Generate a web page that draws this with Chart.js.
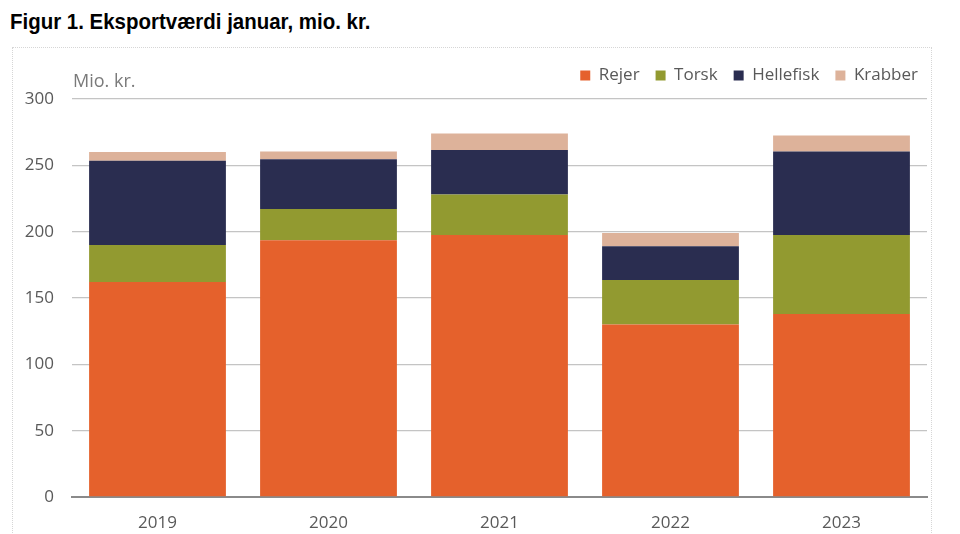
<!DOCTYPE html>
<html>
<head>
<meta charset="utf-8">
<script src="https://cdn.jsdelivr.net/npm/chart.js@4"></script>
<style>
    body { margin: 0; background: #fff; width: 960px; height: 534px; overflow: hidden; position: relative; }
    #title {
        position: absolute; left: 10px; top: 9px;
        font-family: "Liberation Sans", Arial, sans-serif;
        font-weight: bold; font-size: 22px; color: #000; white-space: nowrap;
        transform: scaleX(0.93); transform-origin: left top;
    }
    #box {
        position: absolute; left: 12px; top: 47px; width: 918px; height: 490px;
        border: 1px dotted #d6d6d6;
    }
    #wrap { position: absolute; left: 12px; top: 48px; width: 918px; height: 486px; }
</style>
</head>
<body>
<div id="title">Figur 1. Eksportværdi januar, mio. kr.</div>
<div id="box"></div>
<div id="wrap"><canvas id="chart"></canvas></div>
<script>
const years = ['2019', '2020', '2021', '2022', '2023'];
const rejer = [162, 193.5, 197.5, 130, 138];
const torsk = [28, 23.5, 30.5, 33.5, 59.5];
const hellefisk = [63.5, 37.5, 33.5, 25.5, 63];
const krabber = [6.5, 6, 12.5, 10, 12];
const yTicks = [0, 50, 100, 150, 200, 250, 300];

const textFont = { family: '"Open Sans", sans-serif', size: 17 };
const grey = '#595959';

// a bit of space under the legend, and push it to the right edge
const legendMargin = {
    id: 'legendMargin',
    beforeInit(chart) {
        const fit = chart.legend.fit;
        chart.legend.fit = function () {
            fit.bind(chart.legend)();
            this.height += 5;
        };
    },
    afterLayout(chart) {
        chart.legend.left += 7;
        chart.legend.right += 7;
    }
};

// "Mio. kr." unit label above the plot
const unitLabel = {
    id: 'unitLabel',
    afterDraw(chart) {
        const ctx = chart.ctx;
        ctx.save();
        ctx.font = '18px "Open Sans", sans-serif';
        ctx.fillStyle = '#7a7a7a';
        ctx.textBaseline = 'middle';
        ctx.fillText('Mio. kr.', chart.chartArea.left + 1, chart.chartArea.top - 17);
        ctx.restore();
    }
};

new Chart(document.getElementById('chart'), {
    type: 'bar',
    data: {
        labels: years,
        datasets: [
            { label: 'Rejer', data: rejer, backgroundColor: '#E5612C' },
            { label: 'Torsk', data: torsk, backgroundColor: '#929A30' },
            { label: 'Hellefisk', data: hellefisk, backgroundColor: '#2A2D50' },
            { label: 'Krabber', data: krabber, backgroundColor: '#DDB29A' }
        ]
    },
    options: {
        responsive: true,
        maintainAspectRatio: false,
        animation: false,
        datasets: { bar: { barPercentage: 0.8, categoryPercentage: 1.0, borderWidth: 0 } },
        layout: { padding: { top: 3, right: 3, bottom: 0, left: 0 } },
        plugins: {
            legend: {
                position: 'top',
                align: 'end',
                labels: { boxWidth: 10, boxHeight: 10, padding: 16, color: grey, font: textFont }
            },
            tooltip: { enabled: false }
        },
        scales: {
            x: {
                stacked: true,
                grid: { display: false, drawTicks: false },
                border: { display: true, color: '#8a8a8a', width: 2 },
                ticks: { color: grey, font: textFont, padding: 16 },
                afterFit(scale) { scale.height = 37; }
            },
            y: {
                stacked: true,
                min: 0,
                max: 300,
                afterBuildTicks(scale) { scale.ticks = yTicks.map(v => ({ value: v })); },
                grid: { color: '#c4c4c4', lineWidth: 1.3, drawTicks: false },
                border: { display: false },
                ticks: { color: grey, font: textFont, padding: 18 },
                afterFit(scale) { scale.width = 60; }
            }
        }
    },
    plugins: [legendMargin, unitLabel]
});
</script>
</body>
</html>
